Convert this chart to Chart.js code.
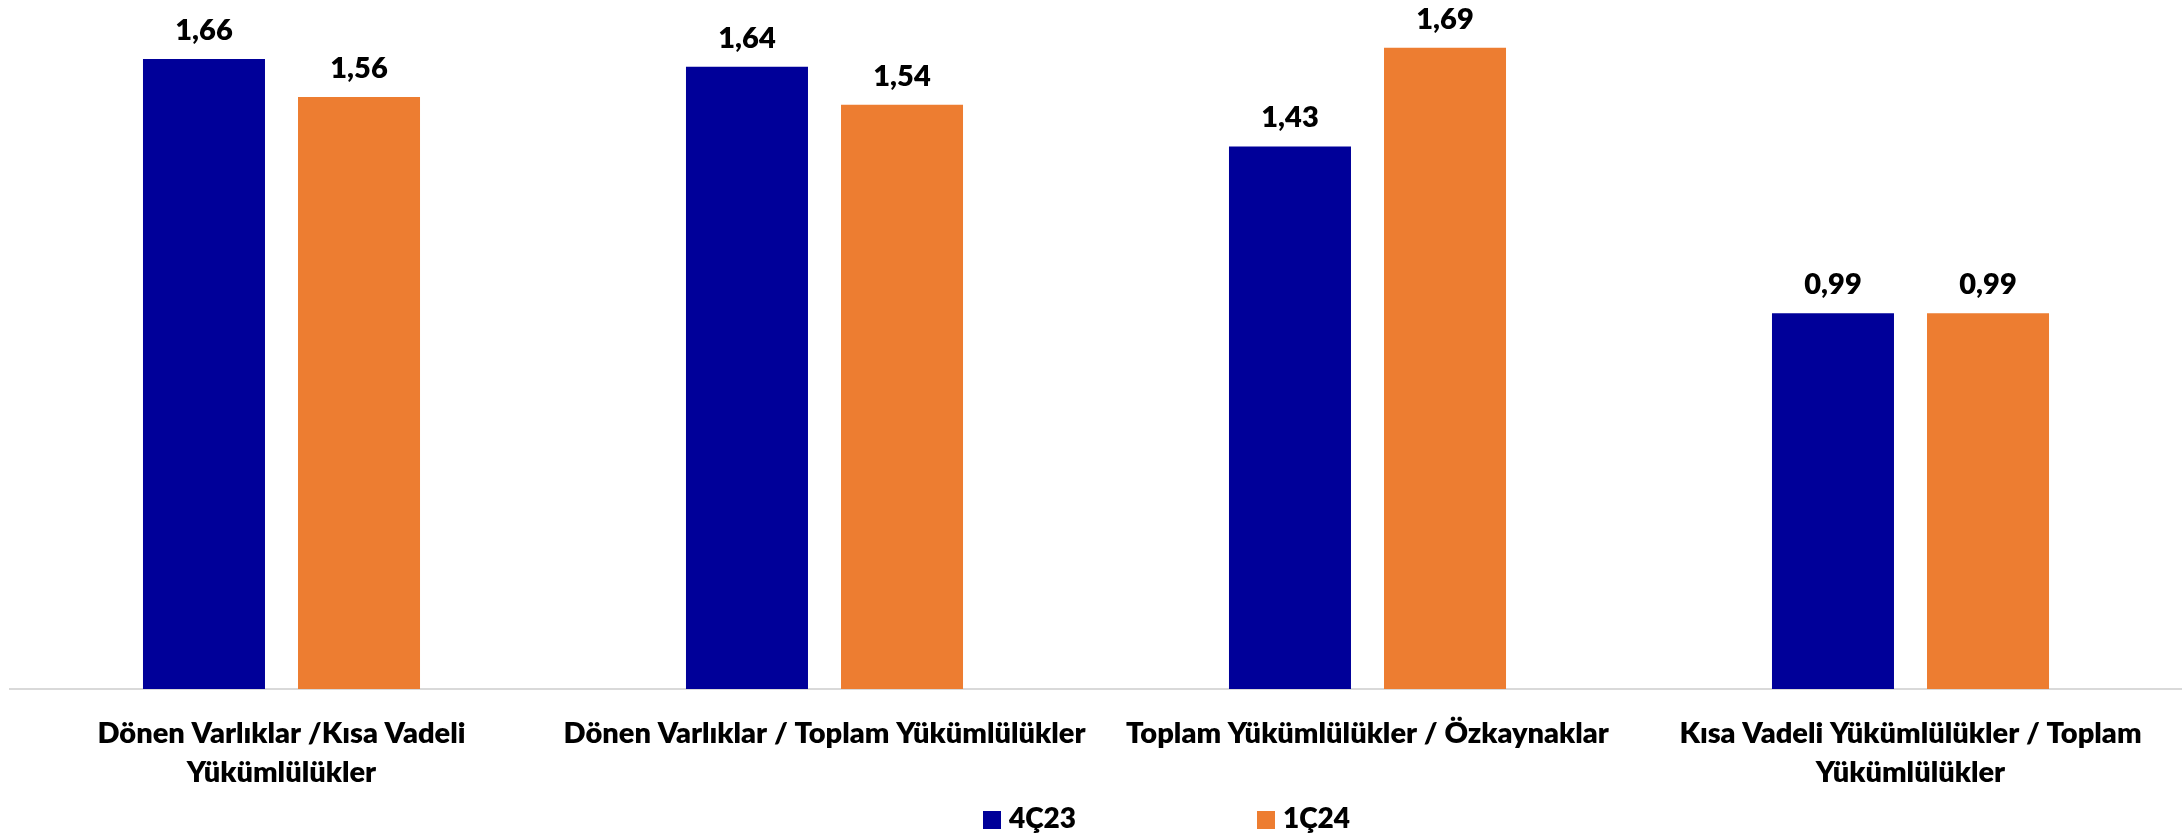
<!DOCTYPE html>
<html>
<head>
<meta charset="utf-8">
<script src="https://cdn.jsdelivr.net/npm/chart.js@4.4.0/dist/chart.umd.min.js"></script>
<style>
  html, body { margin: 0; padding: 0; background: #fff; }
  #wrap { width: 2182px; height: 838px; }
</style>
</head>
<body>
<div id="wrap"><canvas id="myChart"></canvas></div>
<script>
// chart data
const categories = [
    ['Dönen Varlıklar /Kısa Vadeli', 'Yükümlülükler'],
    'Dönen Varlıklar / Toplam Yükümlülükler',
    'Toplam Yükümlülükler / Özkaynaklar',
    ['Kısa Vadeli Yükümlülükler / Toplam', 'Yükümlülükler']
];
const seriesNames = ['4Ç23', '1Ç24'];
const values4C23 = [1.66, 1.64, 1.43, 0.99];
const values1C24 = [1.56, 1.54, 1.69, 0.99];
const seriesColors = ['#000099', '#ED7D31'];

const FONT = 'Lato';
const WEIGHT = '800';

// value labels above each bar, Turkish decimal comma
const valueLabels = {
    id: 'valueLabels',
    afterDatasetsDraw(chart) {
        const ctx = chart.ctx;
        ctx.save();
        ctx.font = WEIGHT + ' 29px ' + FONT;
        ctx.fillStyle = '#000';
        ctx.textAlign = 'center';
        ctx.textBaseline = 'alphabetic';
        chart.data.datasets.forEach((ds, i) => {
            chart.getDatasetMeta(i).data.forEach((bar, j) => {
                ctx.fillText(ds.data[j].toFixed(2).replace('.', ','), bar.x, bar.y - 19);
            });
        });
        ctx.restore();
    }
};

// simple legend at the bottom
const bottomLegend = {
    id: 'bottomLegend',
    afterDraw(chart) {
        const ctx = chart.ctx;
        ctx.save();
        ctx.font = WEIGHT + ' 28px ' + FONT;
        ctx.textBaseline = 'middle';
        ctx.textAlign = 'left';
        const y = 819;
        let x = 983;
        chart.data.datasets.forEach((ds) => {
            ctx.fillStyle = ds.backgroundColor;
            ctx.fillRect(x, y - 8, 18, 18);
            ctx.fillStyle = '#000';
            ctx.fillText(ds.label, x + 26, y);
            x += 274;
        });
        ctx.restore();
    }
};

const ctx = document.getElementById('myChart').getContext('2d');
window.myChart = new Chart(ctx, {
    type: 'bar',
    data: {
        labels: categories,
        datasets: [
            { label: seriesNames[0], data: values4C23, backgroundColor: seriesColors[0] },
            { label: seriesNames[1], data: values1C24, backgroundColor: seriesColors[1] }
        ]
    },
    options: {
        responsive: true,
        maintainAspectRatio: false,
        animation: false,
        categoryPercentage: 0.571,
        barPercentage: 0.787,
        layout: { padding: { top: 6, left: 10, right: 0, bottom: 0 } },
        plugins: {
            legend: { display: false },
            tooltip: { enabled: false }
        },
        scales: {
            x: {
                grid: { display: false, drawTicks: false },
                border: { display: true, color: '#d9d9d9', width: 2 },
                ticks: {
                    color: '#000',
                    font: { family: FONT, size: 29, weight: WEIGHT, lineHeight: 1.345 },
                    padding: 25,
                    maxRotation: 0,
                    autoSkip: false
                },
                afterFit(scale) { scale.height = 149; }
            },
            y: {
                display: false,
                min: 0,
                max: 1.8
            }
        }
    },
    plugins: [valueLabels, bottomLegend]
});
</script>
</body>
</html>
